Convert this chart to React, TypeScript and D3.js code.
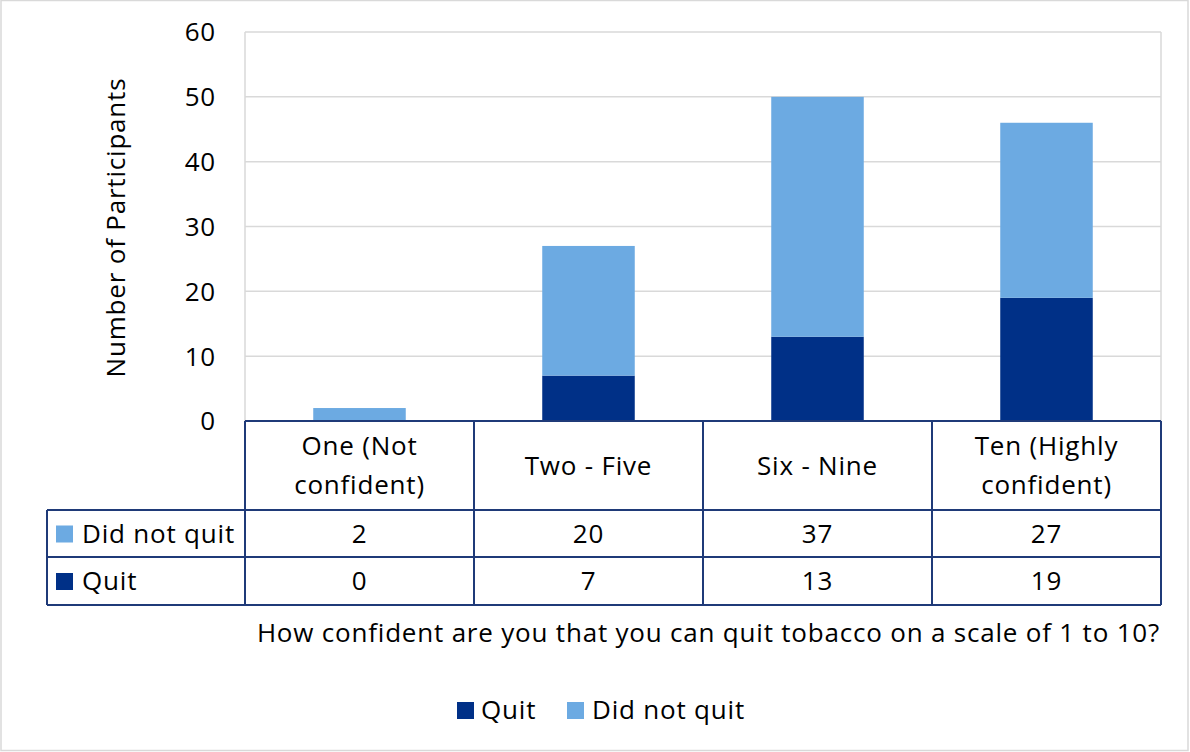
import React from "react";
import * as d3 from "d3";

const categories = ["One (Not|confident)", "Two - Five", "Six - Nine", "Ten (Highly|confident)"];
const didNotQuit = [2, 20, 37, 27];
const quit = [0, 7, 13, 19];
const yTicks = [0, 10, 20, 30, 40, 50, 60];
const xTitle = "How confident are you that you can quit tobacco on a scale of 1 to 10?";
const yTitle = "Number of Participants";

const W = 1190;
const H = 752;
const FONT = "'Open Sans', 'Noto Sans', sans-serif";
const C_QUIT = "#003087";
const C_DNQ = "#6CAAE2";
const C_BORDER = "#1F3A78";

export default function App() {
  const left = 245, right = 1161, top = 32, bottom = 421;
  const y = d3.scaleLinear().domain([0, 60]).range([bottom, top]);
  const x = d3.scaleBand().domain(categories).range([left, right]).paddingInner(0).paddingOuter(0);
  const bw = x.bandwidth();
  const barW = bw * 0.404;
  const rowH = [421, 510, 557, 605];
  const tableLeft = 47;
  const rows = [
    { name: "Did not quit", color: C_DNQ, values: didNotQuit },
    { name: "Quit", color: C_QUIT, values: quit },
  ];
  const fs = 26;
  const ls = 0.8;
  return (
    <svg width={W} height={H} style={{ position: "absolute", left: 0, top: 0, background: "#fff" }} fontFamily={FONT} letterSpacing={ls}>
      <rect x={1} y={0.5} width={1187} height={750} fill="#fff" stroke="#d9d9d9" strokeWidth={1.5} />
      {/* gridlines */}
      {yTicks.map((t) => (
        <line key={t} x1={left} x2={right} y1={y(t)} y2={y(t)} stroke="#d9d9d9" strokeWidth={1.5} />
      ))}
      <line x1={left} x2={left} y1={top} y2={bottom} stroke="#d9d9d9" strokeWidth={1.5} />
      <line x1={right} x2={right} y1={top} y2={bottom} stroke="#d9d9d9" strokeWidth={1.5} />
      {/* y tick labels */}
      {yTicks.map((t) => (
        <text key={t} x={216} y={y(t)} dy="0.36em" textAnchor="end" fontSize={fs} fill="#000">
          {t}
        </text>
      ))}
      <text
        transform={`translate(125,${(top + bottom) / 2 + 1}) rotate(-90)`}
        textAnchor="middle"
        fontSize={fs}
        fill="#000"
      >
        {yTitle}
      </text>
      {/* bars */}
      {categories.map((c, i) => {
        const cx = (x(c) as number) + bw / 2;
        const q = quit[i];
        const d = didNotQuit[i];
        return (
          <g key={c}>
            {q > 0 && <rect x={cx - barW / 2} y={y(q)} width={barW} height={y(0) - y(q)} fill={C_QUIT} />}
            {d > 0 && <rect x={cx - barW / 2} y={y(q + d)} width={barW} height={y(q) - y(q + d)} fill={C_DNQ} />}
          </g>
        );
      })}
      {/* data table */}
      <g fill="none" stroke={C_BORDER} strokeWidth={2}>
        <line x1={left} x2={right} y1={rowH[0]} y2={rowH[0]} />
        <line x1={tableLeft} x2={right} y1={rowH[1]} y2={rowH[1]} />
        <line x1={tableLeft} x2={right} y1={rowH[2]} y2={rowH[2]} />
        <line x1={tableLeft} x2={right} y1={rowH[3]} y2={rowH[3]} />
        <line x1={tableLeft} x2={tableLeft} y1={rowH[1]} y2={rowH[3]} />
        {categories.map((c) => (
          <line key={c} x1={x(c)} x2={x(c)} y1={rowH[0]} y2={rowH[3]} />
        ))}
        <line x1={right} x2={right} y1={rowH[0]} y2={rowH[3]} />
      </g>
      {categories.map((c) => {
        const cx = (x(c) as number) + bw / 2;
        const lines = c.split("|");
        const mid = (rowH[0] + rowH[1]) / 2;
        const lh = 39;
        return (
          <g key={c}>
            {lines.map((l, j) => (
              <text key={j} x={cx} y={mid + (j - (lines.length - 1) / 2) * lh} dy="0.36em" textAnchor="middle" fontSize={fs} fill="#000">
                {l}
              </text>
            ))}
          </g>
        );
      })}
      {rows.map((r, ri) => {
        const yc = (rowH[ri + 1] + rowH[ri + 2]) / 2;
        return (
          <g key={r.name}>
            <rect x={56} y={yc - 8} width={17} height={17} fill={r.color} />
            <text x={82} y={yc} dy="0.36em" fontSize={fs} fill="#000">
              {r.name}
            </text>
            {categories.map((c, i) => (
              <text key={c} x={(x(c) as number) + bw / 2} y={yc} dy="0.36em" textAnchor="middle" fontSize={fs} fill="#000">
                {r.values[i]}
              </text>
            ))}
          </g>
        );
      })}
      <text x={1160} y={633} dy="0.36em" textAnchor="end" fontSize={fs} fill="#000">
        {xTitle}
      </text>
      {/* legend */}
      <rect x={457} y={702} width={17} height={17} fill={C_QUIT} />
      <text x={481} y={710} dy="0.36em" fontSize={fs} fill="#000">Quit</text>
      <rect x={567} y={702} width={17} height={17} fill={C_DNQ} />
      <text x={592} y={710} dy="0.36em" fontSize={fs} fill="#000">Did not quit</text>
    </svg>
  );
}
